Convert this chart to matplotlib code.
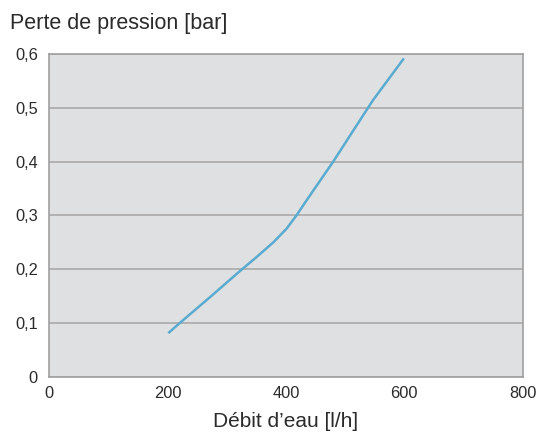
import matplotlib
matplotlib.use('Agg')
import matplotlib.pyplot as plt

# Débit d'eau [l/h] et perte de pression [bar]
debit = [203, 221, 272, 322, 350, 379, 401, 418, 435, 480, 514, 547, 598]
perte = [0.0825, 0.1, 0.148, 0.196, 0.222, 0.25, 0.275, 0.3, 0.328, 0.4, 0.458, 0.514, 0.59]

xticks = [0, 200, 400, 600, 800]
yticks = [0, 0.1, 0.2, 0.3, 0.4, 0.5, 0.6]
ylabels = ['0', '0,1', '0,2', '0,3', '0,4', '0,5', '0,6']

plt.rcParams['font.family'] = ['Liberation Sans', 'DejaVu Sans']

fig = plt.figure(figsize=(5.44, 4.32), dpi=100)
ax = fig.add_axes([0.09, 0.128, 0.871, 0.747])
ax.set_facecolor('#dfe0e2')

ax.plot(debit, perte, color='#5aabd0', linewidth=1.8)

ax.set_xlim(0, 800)
ax.set_ylim(0, 0.6)
ax.set_xticks(xticks)
ax.set_yticks(yticks)
ax.set_yticklabels(ylabels)
ax.tick_params(length=0, labelsize=11.8, colors='#2b2b2b')
ax.tick_params(axis='y', pad=8)
ax.tick_params(axis='x', pad=6.5)
ax.yaxis.grid(True, color='#a9a9a9', linewidth=1.2)
ax.set_axisbelow(True)
for s in ax.spines.values():
    s.set_color('#a0a0a0')
    s.set_linewidth(1.2)

ax.set_xlabel("Débit d\u2019eau [l/h]", fontsize=15, color='#2b2b2b', labelpad=8)
fig.text(0.018, 0.932, 'Perte de pression [bar]', fontsize=15.5, color='#2b2b2b')

fig.savefig('out.png', dpi=100)
